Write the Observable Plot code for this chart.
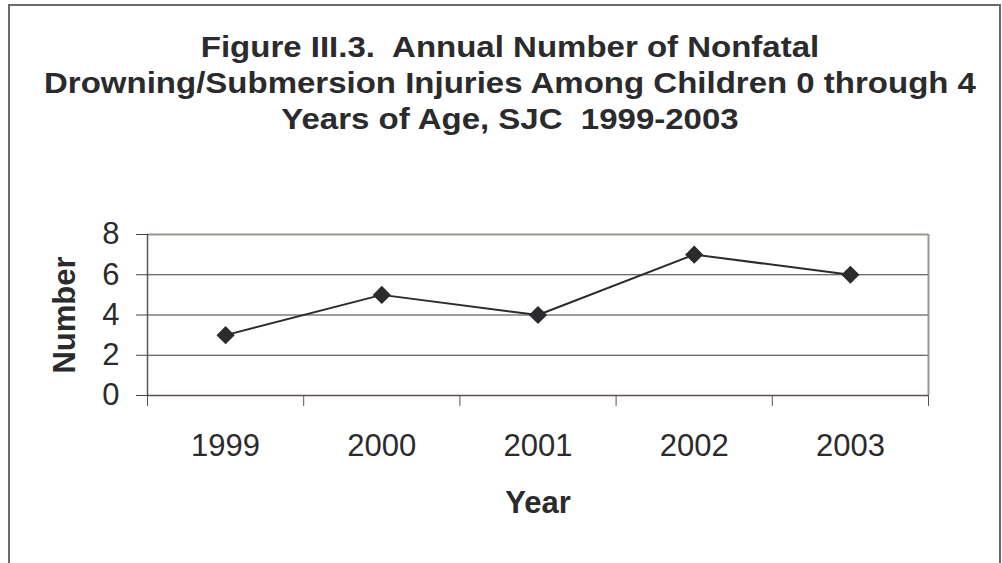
<!DOCTYPE html>
<html>
<head>
<meta charset="utf-8">
<script src="https://cdn.jsdelivr.net/npm/d3@7"></script>
<script src="https://cdn.jsdelivr.net/npm/@observablehq/plot@0.6"></script>
<style>
  html, body { margin: 0; padding: 0; background: white; }
  #wrap { position: relative; width: 1002px; height: 563px; overflow: hidden; font-family: "Liberation Sans", Arial, sans-serif; }
  #chart { position: absolute; left: 0; top: 0; }
  #frame { position: absolute; left: 8px; top: 4px; width: 989px; height: 620px; border: 2px solid #6a6a6a; pointer-events: none; }
  #title { position: absolute; left: 18px; width: 984px; top: 29px; text-align: center; font-weight: bold; font-size: 30px; line-height: 36px; color: #2b2b2e; white-space: pre; transform: scaleX(1.1); transform-origin: 492px 0; }
</style>
</head>
<body>
<div id="wrap">
  <div id="chart"></div>
  <div id="frame"></div>
  <div id="title"></div>
</div>
<script>
const titleLines = [
  "Figure III.3.  Annual Number of Nonfatal",
  "Drowning/Submersion Injuries Among Children 0 through 4",
  "Years of Age, SJC  1999-2003"
];
const years = [1999, 2000, 2001, 2002, 2003];
const counts = [3, 5, 4, 7, 6];
const yTicks = [0, 2, 4, 6, 8];
const xLabel = "Year";
const yLabel = "Number";

document.getElementById("title").textContent = titleLines.join("\n");

const data = years.map((year, i) => ({year, count: counts[i]}));
const boundaries = [years[0] - 0.5, ...years.map(y => y + 0.5)];
const xDomain = [boundaries[0], boundaries[boundaries.length - 1]];
const yDomain = [yTicks[0], yTicks[yTicks.length - 1]];

const chart = Plot.plot({
  width: 1002,
  height: 563,
  marginLeft: 147,
  marginRight: 74,
  marginTop: 234,
  marginBottom: 168,
  style: {fontFamily: "Liberation Sans, Arial, sans-serif", color: "#2b2b2e", background: "transparent"},
  x: {type: "linear", domain: xDomain},
  y: {domain: yDomain},
  marks: [
    Plot.gridY(yTicks, {stroke: "#3a3a3a", strokeOpacity: 1, strokeWidth: 1}),
    Plot.ruleY([yDomain[1]], {stroke: "#9e938f", strokeWidth: 2}),
    Plot.ruleX([xDomain[1]], {stroke: "#9e938f", strokeWidth: 2}),
    Plot.ruleX([xDomain[0]], {stroke: "#555", strokeWidth: 1.5}),
    Plot.ruleY([yDomain[0]], {stroke: "#5a5050", strokeWidth: 1.5}),
    Plot.axisY(yTicks, {tickSize: 11, tickPadding: 17, fontSize: 31, label: null, stroke: "#444"}),
    Plot.axisX(years, {tickSize: 0, tickPadding: 38, fontSize: 31, label: null, tickFormat: d => String(d)}),
    Plot.axisX(boundaries, {tickSize: 11, label: null, tickFormat: () => "", stroke: "#555"}),
    Plot.text([xLabel], {frameAnchor: "bottom", dy: 117, fontSize: 31, fontWeight: "bold", fill: "#2b2b2e"}),
    Plot.text([yLabel], {frameAnchor: "left", dx: -82, rotate: -90, textAnchor: "middle", fontSize: 31, fontWeight: "bold", fill: "#2b2b2e"}),
    Plot.line(data, {x: "year", y: "count", stroke: "#2b2b2e", strokeWidth: 2}),
    Plot.dot(data, {x: "year", y: "count", symbol: "diamond2", r: 8.2, fill: "#2b2b2e", stroke: "none"})
  ]
});
document.getElementById("chart").appendChild(chart);
</script>
</body>
</html>
